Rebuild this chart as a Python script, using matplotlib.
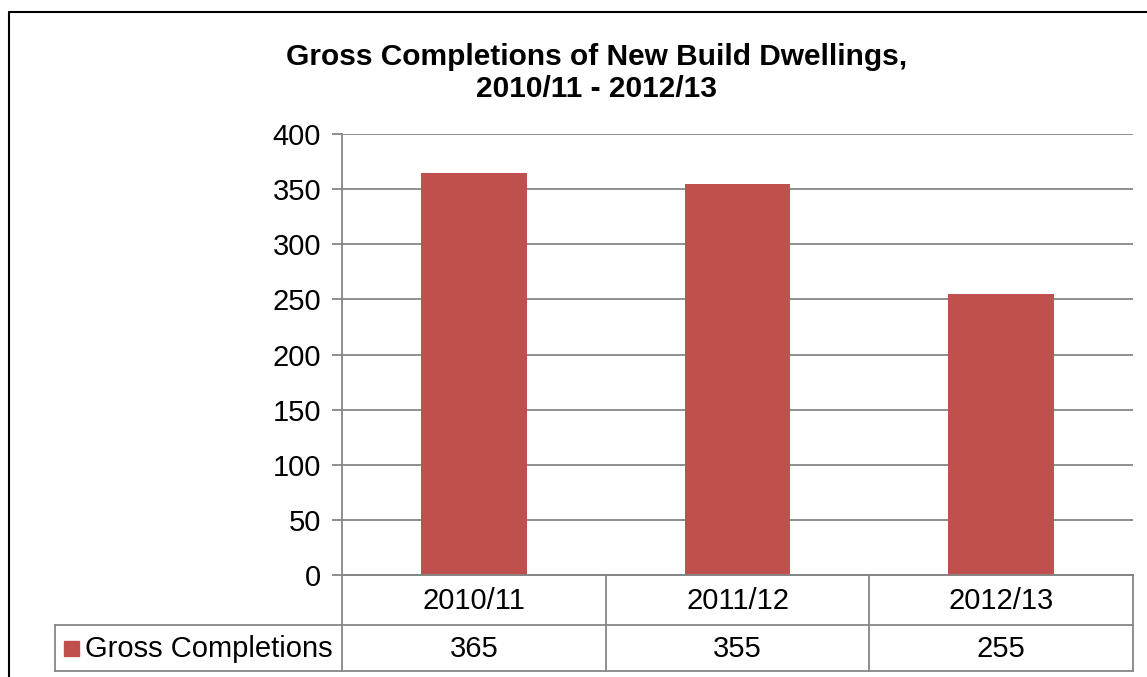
import numpy as np
import matplotlib.pyplot as plt
from matplotlib.lines import Line2D
from matplotlib.patches import Rectangle

# chart data
years = ["2010/11", "2011/12", "2012/13"]
completions = [365, 355, 255]
series_name = "Gross Completions"
title_text = "Gross Completions of New Build Dwellings,\n2010/11 - 2012/13"

bar_color = "#C0504D"
grid_color = "#868686"

plt.rcParams["font.family"] = ["Liberation Sans", "DejaVu Sans"]

W, H = 1147, 677
fig = plt.figure(figsize=(W / 100, H / 100), dpi=100)


def fx(px):
    return px / W


def fy(py):
    return 1 - py / H


# plot area in pixel terms
left, right, top, bottom = 342, 1133, 134, 575
ax = fig.add_axes([fx(left), fy(bottom), fx(right - left), fy(top) - fy(bottom)])

x = np.arange(len(years))
ax.bar(x, completions, width=0.4, color=bar_color, zorder=3)
ax.set_xlim(-0.5, len(years) - 0.5)
ax.set_ylim(0, 400)
ax.set_yticks(np.arange(0, 401, 50))
ax.yaxis.grid(True, color=grid_color, linewidth=1.3)
ax.set_axisbelow(True)
ax.set_xticks([])
for s in ["top", "right"]:
    ax.spines[s].set_visible(False)
for s in ["left", "bottom"]:
    ax.spines[s].set_color(grid_color)
    ax.spines[s].set_linewidth(1.3)
ax.tick_params(axis="y", length=7, width=1.3, color=grid_color,
               labelsize=21, pad=8)

# title
fig.text(fx(597), fy(73), title_text, ha="center", va="center",
         fontsize=21.5, fontweight="bold", linespacing=1.15)

# data table under the axis
row1_bottom, row2_bottom = 625, 671
legend_left = 55
lw = 1.3
tab_font = 21


def hline(x0, x1, y):
    fig.add_artist(Line2D([fx(x0), fx(x1)], [fy(y), fy(y)], color=grid_color, lw=lw))


def vline(xp, y0, y1):
    fig.add_artist(Line2D([fx(xp), fx(xp)], [fy(y0), fy(y1)], color=grid_color, lw=lw))


col_w = (right - left) / len(years)
hline(left, right, bottom)
hline(legend_left, right, row1_bottom)
hline(legend_left, right, row2_bottom)
for i in range(len(years) + 1):
    vline(left + i * col_w, bottom, row2_bottom)
vline(legend_left, row1_bottom, row2_bottom)

for i, (yr, val) in enumerate(zip(years, completions)):
    cx = left + (i + 0.5) * col_w
    fig.text(fx(cx), fy((bottom + row1_bottom) / 2 + 1), yr, ha="center",
             va="center", fontsize=tab_font)
    fig.text(fx(cx), fy((row1_bottom + row2_bottom) / 2 + 1), str(val),
             ha="center", va="center", fontsize=tab_font)

# legend key inside the row label cell
fig.add_artist(Rectangle((fx(64), fy(656)), fx(15), fy(641) - fy(656),
                         color=bar_color))
fig.text(fx(85), fy(649), series_name, ha="left", va="center",
         fontsize=tab_font)

# outer chart border
fig.add_artist(Line2D([fx(9), fx(9), fx(W + 5)], [fy(H + 5), fy(12), fy(12)],
                      color="black", lw=1.5))

fig.savefig("out.png", dpi=100)
